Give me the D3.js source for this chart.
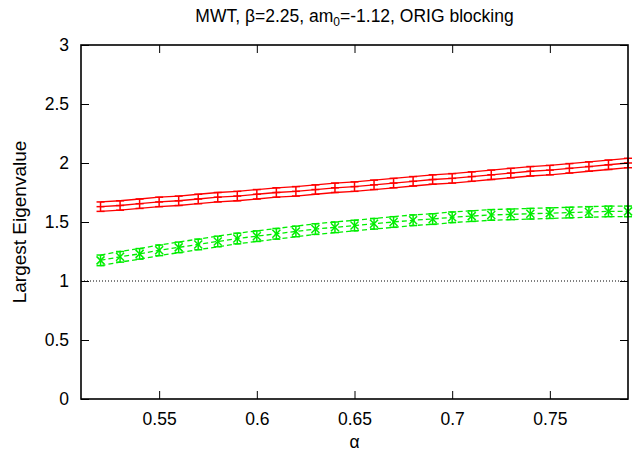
<!DOCTYPE html>
<html>
<head>
<meta charset="utf-8">
<script src="https://cdn.jsdelivr.net/npm/d3@7"></script>
<style>
body{margin:0;background:#fff}
text{font-family:"Liberation Sans",Arial,Helvetica,sans-serif}
</style>
</head>
<body>
<svg id="plot"></svg>
<script>
// alpha values and the two series
var alphas=[0.52,0.53,0.54,0.55,0.56,0.57,0.58,0.59,0.60,0.61,0.62,0.63,0.64,0.65,
            0.66,0.67,0.68,0.69,0.70,0.71,0.72,0.73,0.74,0.75,0.76,0.77,0.78,0.79]
var redVals=[1.63,1.64,1.655,1.67,1.68,1.695,1.71,1.72,1.735,1.75,1.76,1.775,1.79,1.80,
             1.815,1.83,1.845,1.86,1.87,1.885,1.90,1.915,1.93,1.94,1.955,1.97,1.985,2.00]
var redErr=0.04
var greenVals=[1.175,1.205,1.23,1.26,1.285,1.31,1.335,1.36,1.38,1.40,1.42,1.44,1.455,1.47,
               1.485,1.50,1.515,1.525,1.54,1.55,1.56,1.565,1.57,1.575,1.58,1.585,1.59,1.59]
var greenErr=0.045
var xTicks=[0.55,0.6,0.65,0.7,0.75]
var yTicks=[0,0.5,1,1.5,2,2.5,3]

var width=641
var height=454
var margins={top:45, bottom:55, left:81, right:13}
var fontSize=17.5

var svg=d3.select("#plot")
    .attr("width",width)
    .attr("height",height)

var xScale=d3.scaleLinear()
    .domain([0.51,0.79])
    .range([margins.left,width-margins.right])
var yScale=d3.scaleLinear()
    .domain([0,3])
    .range([height-margins.bottom,margins.top])

var fmt=function(d){return d3.format("")(+d.toFixed(2))}

// dotted line at 1
svg.append("line")
    .attr("x1",xScale(0.51)).attr("x2",xScale(0.79))
    .attr("y1",yScale(1)).attr("y2",yScale(1))
    .attr("stroke","#000").attr("stroke-width",1)
    .attr("stroke-dasharray","1,2")

var drawSeries=function(vals,err,color,dash,marker){
    var pts=alphas.map(function(a,i){return {x:a,y:vals[i]}})
    var offsets=[-err,0,err]
    offsets.forEach(function(o){
        var line=d3.line()
            .x(function(d){return xScale(d.x)})
            .y(function(d){return yScale(d.y+o)})
        svg.append("path")
            .datum(pts)
            .attr("d",line)
            .attr("fill","none")
            .attr("stroke",color)
            .attr("stroke-width",1.3)
            .attr("stroke-dasharray",dash)
    })
    var g=svg.append("g").attr("stroke",color).attr("stroke-width",1.5).attr("fill","none")
    pts.forEach(function(d){
        var cx=xScale(d.x), t=yScale(d.y+err), b=yScale(d.y-err), cy=yScale(d.y)
        g.append("line").attr("x1",cx).attr("x2",cx).attr("y1",t).attr("y2",b)
        g.append("line").attr("x1",cx-4).attr("x2",cx+4).attr("y1",t).attr("y2",t)
        g.append("line").attr("x1",cx-4).attr("x2",cx+4).attr("y1",b).attr("y2",b)
        if(marker=="plus"){
            g.append("line").attr("x1",cx-4).attr("x2",cx+4).attr("y1",cy).attr("y2",cy)
        }else{
            g.append("line").attr("x1",cx-4).attr("x2",cx+4).attr("y1",cy-4).attr("y2",cy+4)
            g.append("line").attr("x1",cx-4).attr("x2",cx+4).attr("y1",cy+4).attr("y2",cy-4)
        }
    })
}

drawSeries(greenVals,greenErr,"#00ee00","5,3","cross")
drawSeries(redVals,redErr,"#ff0000",null,"plus")

// axes with inward ticks, mirrored on top and right
var xAxis=d3.axisBottom(xScale).tickValues(xTicks).tickSize(-8).tickPadding(14).tickFormat(fmt)
var xTop=d3.axisTop(xScale).tickValues(xTicks).tickSize(-8).tickFormat("")
var yAxis=d3.axisLeft(yScale).tickValues(yTicks).tickSize(-8).tickPadding(12).tickFormat(fmt)
var yRight=d3.axisRight(yScale).tickValues(yTicks).tickSize(-8).tickFormat("")

svg.append("g").attr("transform","translate(0,"+(height-margins.bottom)+")").call(xAxis)
svg.append("g").attr("transform","translate(0,"+margins.top+")").call(xTop)
svg.append("g").attr("transform","translate("+margins.left+",0)").call(yAxis)
svg.append("g").attr("transform","translate("+(width-margins.right)+",0)").call(yRight)

svg.selectAll(".domain").remove()
svg.selectAll(".tick line").attr("stroke","#000").attr("stroke-width",1)
svg.selectAll(".tick text").attr("font-size",fontSize).attr("fill","#000")

svg.append("rect")
    .attr("x",xScale(0.51)).attr("y",yScale(3))
    .attr("width",xScale(0.79)-xScale(0.51))
    .attr("height",yScale(0)-yScale(3))
    .attr("fill","none").attr("stroke","#000").attr("stroke-width",1.6)

// title
var title=svg.append("text")
    .attr("x",(xScale(0.51)+xScale(0.79))/2)
    .attr("y",22)
    .attr("text-anchor","middle")
    .attr("font-size",fontSize)
title.append("tspan").text("MWT, \u03b2=2.25, am")
title.append("tspan").attr("font-size",12).attr("dy",4).text("0")
title.append("tspan").attr("dy",-4).text("=-1.12, ORIG blocking")

svg.append("text")
    .attr("x",(xScale(0.51)+xScale(0.79))/2)
    .attr("y",448)
    .attr("text-anchor","middle")
    .attr("font-size",fontSize)
    .text("\u03b1")

svg.append("text")
    .attr("transform","translate(26,"+((yScale(0)+yScale(3))/2)+") rotate(-90)")
    .attr("text-anchor","middle")
    .attr("font-size",19)
    .text("Largest Eigenvalue")
</script>
</body>
</html>
